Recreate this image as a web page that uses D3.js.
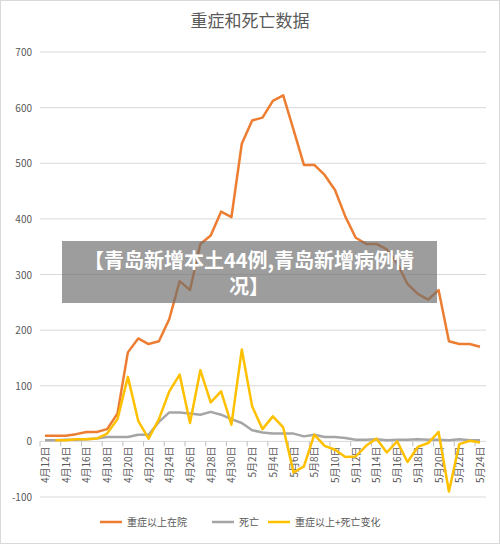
<!DOCTYPE html>
<html><head><meta charset="utf-8">
<script src="https://cdn.jsdelivr.net/npm/d3@7"></script>
<style>body{margin:0;background:#fff;font-family:"Noto Sans CJK SC","Noto Sans",sans-serif}</style>
</head><body><div id="c"></div>
<script>
var start = new Date(2022, 3, 12);
var dates = d3.range(43).map(function (i) { return d3.timeDay.offset(start, i); });
var severe = [10,10,10,13,17,17,22,50,160,185,175,180,220,288,272,355,370,413,403,535,577,582,612,622,560,497,497,479,452,404,366,355,355,345,320,283,265,255,272,180,175,175,170];
var deaths = [2,2,3,3,4,5,8,8,8,12,12,35,52,52,50,48,53,48,40,33,20,16,14,14,14,9,12,8,8,6,3,3,4,2,3,3,4,3,3,2,4,2,2];
var change = [null,2,2,4,4,5,14,40,116,37,5,40,90,120,33,128,70,90,30,165,63,22,45,25,-56,-45,12,-8,-15,-28,-27,-8,5,-20,0,-37,-10,-3,17,-90,-5,1,-2];
var yTicks = [-100,0,100,200,300,400,500,600,700];
var names = ["重症以上在院", "死亡", "重症以上+死亡变化"];
var colors = ["#ed7d31", "#a5a5a5", "#ffc000"];

var W = 500, H = 544;
var svg = d3.select("#c").append("svg").attr("width", W).attr("height", H);
svg.append("rect").attr("x", 0.5).attr("y", 0.5).attr("width", W - 1).attr("height", H - 1)
    .attr("fill", "#fff").attr("stroke", "#d9d9d9");
svg.append("text").attr("x", W / 2).attr("y", 27).attr("text-anchor", "middle")
    .attr("font-size", 17).attr("fill", "#595959").text("重症和死亡数据");

var x = d3.scaleLinear().domain([0, 42]).range([45, 480]);
var y = d3.scaleLinear().domain([-100, 700]).range([497, 52]);

svg.append("g").selectAll("line").data(yTicks).enter().append("line")
    .attr("x1", 40).attr("x2", 486)
    .attr("y1", function (d) { return y(d); }).attr("y2", function (d) { return y(d); })
    .attr("stroke", "#d9d9d9");
svg.append("g").selectAll("text").data(yTicks).enter().append("text")
    .attr("x", 32).attr("y", function (d) { return y(d) + 4; }).attr("text-anchor", "end")
    .attr("font-size", 10).attr("fill", "#595959").text(function (d) { return d; });

// x labels every 2 days, hanging from the zero line
var labelIdx = d3.range(0, 43, 2);
svg.append("g").selectAll("line").data(labelIdx).enter().append("line")
    .attr("x1", function (d) { return x(d) - 5; }).attr("x2", function (d) { return x(d) - 5; })
    .attr("y1", y(0)).attr("y2", y(0) + 5).attr("stroke", "#bfbfbf");
svg.append("g").selectAll("text").data(labelIdx).enter().append("text")
    .attr("transform", function (d) { return "translate(" + (x(d) + 4) + "," + (y(0) + 5) + ") rotate(-90)"; })
    .attr("text-anchor", "end").attr("font-size", 10).attr("fill", "#595959")
    .text(function (d) { return (dates[d].getMonth() + 1) + "月" + dates[d].getDate() + "日"; });

var line = d3.line().defined(function (d) { return d != null; })
    .x(function (d, i) { return x(i); }).y(function (d) { return y(d); });
[severe, deaths, change].forEach(function (s, k) {
    svg.append("path").datum(s).attr("d", line).attr("fill", "none")
        .attr("stroke", colors[k]).attr("stroke-width", 2.5).attr("stroke-linejoin", "round");
});

// legend
var lx = [100, 212, 268];
var lg = svg.append("g").selectAll("g").data(names).enter().append("g")
    .attr("transform", function (d, i) { return "translate(" + lx[i] + ",522)"; });
lg.append("line").attr("x1", 0).attr("x2", 22).attr("stroke", function (d, i) { return colors[i]; }).attr("stroke-width", 2.5);
lg.append("text").attr("x", 27).attr("y", 4).attr("font-size", 10).attr("fill", "#595959").text(function (d) { return d; });

// banner overlay
svg.append("rect").attr("x", 62).attr("y", 241).attr("width", 375).attr("height", 62)
    .attr("fill", "rgba(110,110,110,0.68)");
svg.append("text").attr("x", 249).attr("y", 268).attr("text-anchor", "middle").attr("font-size", 20)
    .attr("font-weight", "bold").attr("fill", "#fff").text("【青岛新增本土44例,青岛新增病例情");
svg.append("text").attr("x", 249).attr("y", 294).attr("text-anchor", "middle").attr("font-size", 20)
    .attr("font-weight", "bold").attr("fill", "#fff").text("况】");
</script></body></html>
